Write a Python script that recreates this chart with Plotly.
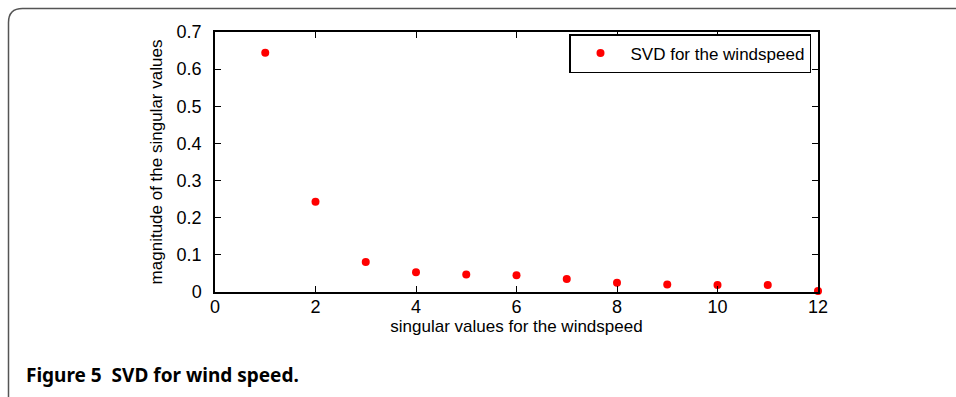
import plotly.graph_objects as go

x_vals = [1, 2, 3, 4, 5, 6, 7, 8, 9, 10, 11, 12]
y_vals = [0.644, 0.243, 0.081, 0.053, 0.047, 0.045, 0.035, 0.025, 0.020, 0.019, 0.019, 0.003]
series_name = "SVD for the windspeed"
x_title = "singular values for the windspeed"
y_title = "magnitude of the singular values"
caption = "Figure 5  SVD for wind speed."
x_ticks = [0, 2, 4, 6, 8, 10, 12]
y_ticks = [0, 0.1, 0.2, 0.3, 0.4, 0.5, 0.6, 0.7]

W, H = 956, 397
L, R, T, B = 215, 138, 32, 105
pw, ph = W - L - R, H - T - B

def px(xp):
    return (xp - L) / pw

def py(yp):
    return (H - B - yp) / ph

fig = go.Figure()
fig.add_trace(go.Scatter(
    x=x_vals, y=y_vals, mode="markers", name=series_name,
    marker=dict(color="#ff0000", size=8, symbol="circle"),
    cliponaxis=False,
))

axis_common = dict(
    showgrid=False, zeroline=False, showline=True, linecolor="black", linewidth=1.5,
    mirror="allticks", ticks="inside", ticklen=6, tickcolor="black",
    tickfont=dict(family="Liberation Sans, Arial", size=18, color="black"),
)

fig.update_layout(
    width=W, height=H,
    margin=dict(l=L, r=R, t=T, b=B),
    paper_bgcolor="white", plot_bgcolor="white",
    showlegend=True,
    legend=dict(
        x=px(811), y=py(34), xanchor="right", yanchor="top",
        bordercolor="black", borderwidth=1.5, bgcolor="white",
        font=dict(family="Liberation Sans, Arial", size=17, color="black"),
        itemwidth=50,
    ),
    xaxis=dict(range=[0, 12], tickvals=x_ticks, ticktext=[str(v) for v in x_ticks],
               ticklabelstandoff=-2,
               title=dict(text=x_title, standoff=4,
                          font=dict(family="Liberation Sans, Arial", size=17, color="black")),
               **axis_common),
    yaxis=dict(range=[0, 0.7], tickvals=y_ticks,
               ticktext=["0", "0.1", "0.2", "0.3", "0.4", "0.5", "0.6", "0.7"],
               ticklabelstandoff=8,
               title=dict(text=y_title, standoff=10,
                          font=dict(family="Liberation Sans, Arial", size=17, color="black")),
               **axis_common),
)

# outer rounded frame (top and left edges)
r = 14
path = (f"M {px(8.5)},{py(400)} L {px(8.5)},{py(8.5 + r)} "
        f"Q {px(8.5)},{py(8.5)} {px(8.5 + r)},{py(8.5)} L {px(960)},{py(8.5)}")
fig.add_shape(type="path", path=path, xref="paper", yref="paper",
              line=dict(color="#555555", width=1.5))

fig.add_annotation(
    text=f"<b>{caption}</b>", xref="paper", yref="paper",
    x=px(24), y=py(375), xanchor="left", yanchor="middle", showarrow=False,
    font=dict(family="Noto Sans, Open Sans", size=19, color="black"),
)

fig.write_html("out.html")
